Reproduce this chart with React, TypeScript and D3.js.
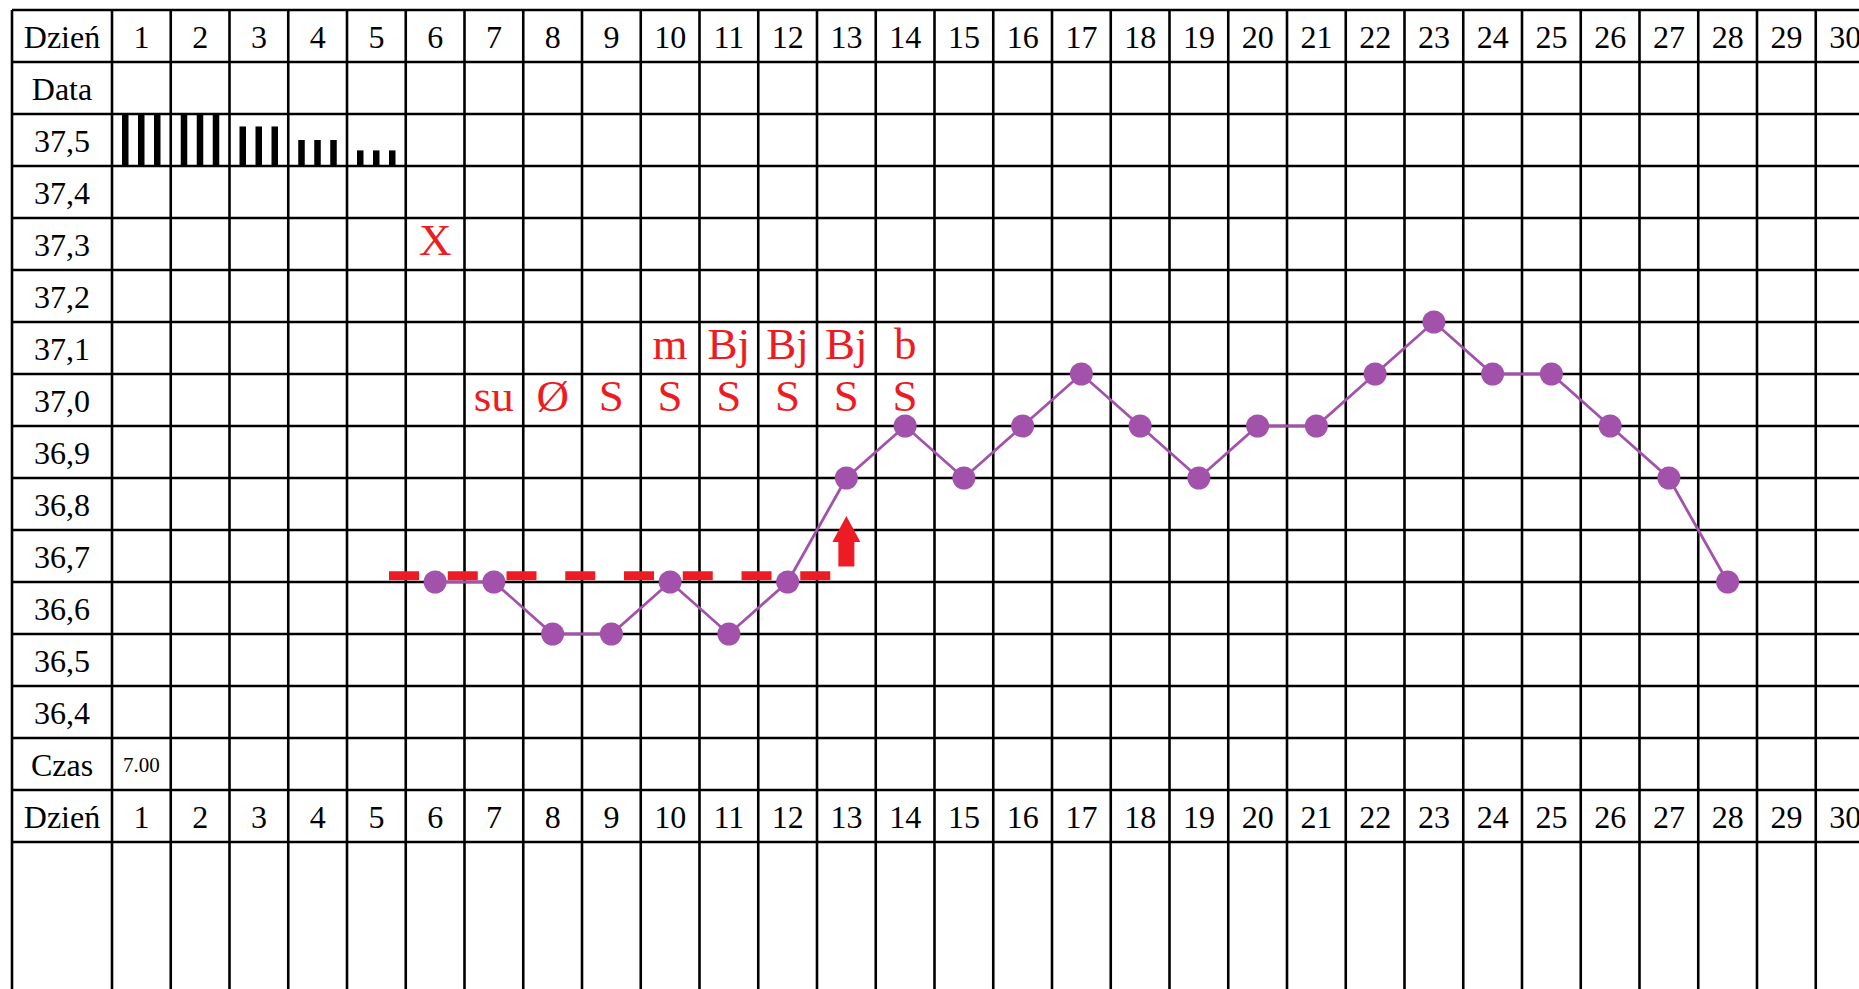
import * as d3 from 'd3';

// Chart dimensions (matches reference window)
const W = 1859;
const H = 989;

// Day numbers across the top and bottom rows
const DAYS = [1, 2, 3, 4, 5, 6, 7, 8, 9, 10, 11, 12, 13, 14, 15, 16, 17, 18, 19, 20, 21, 22, 23, 24, 25, 26, 27, 28, 29, 30];

// Row labels of the left column, top to bottom
const ROW_LABELS = ['Dzień', 'Data', '37,5', '37,4', '37,3', '37,2', '37,1', '37,0', '36,9', '36,8', '36,7', '36,6', '36,5', '36,4', 'Czas', 'Dzień'];

// Basal body temperature readings
const TEMP_DAYS = [6, 7, 8, 9, 10, 11, 12, 13, 14, 15, 16, 17, 18, 19, 20, 21, 22, 23, 24, 25, 26, 27, 28];
const TEMPS = [36.65, 36.65, 36.55, 36.55, 36.65, 36.55, 36.65, 36.85, 36.95, 36.85, 36.95, 37.05, 36.95, 36.85, 36.95, 36.95, 37.05, 37.15, 37.05, 37.05, 36.95, 36.85, 36.65];

// Bleeding intensity (fraction of the row height)
const BLEED_DAYS = [1, 2, 3, 4, 5];
const BLEED_LEVELS = [1, 1, 0.76, 0.5, 0.3];

// Red annotations
const NOTE_DAYS_UPPER = [10, 11, 12, 13, 14];
const NOTE_TEXT_UPPER = ['m', 'Bj', 'Bj', 'Bj', 'b'];
const NOTE_DAYS_LOWER = [7, 8, 9, 10, 11, 12, 13, 14];
const NOTE_TEXT_LOWER = ['su', 'Ø', 'S', 'S', 'S', 'S', 'S', 'S'];
const MARK_DAY = 6;
const MARK_TEXT = 'X';

// Cover line (in day units) and the rise arrow
const COVER_FROM = 5.215;
const COVER_TO = 12.755;
const COVER_TEMP = 36.662;
const ARROW_DAY = 13;
const ARROW_FROM = 36.68;
const ARROW_TO = 36.777;

const TIME_DAY = 1;
const TIME_TEXT = '7.00';

const RED = '#ed1c24';
const PURPLE = '#a352ab';
const FONT = '"Liberation Serif", "Times New Roman", serif';

export default function App() {
  const left = 12;
  const colStart = 112;
  const colW = 58.75;

  const x = d3.scaleBand<number>()
    .domain(DAYS)
    .range([colStart, colStart + DAYS.length * colW]);
  const bw = x.bandwidth();
  const cx = (d: number) => (x(d) as number) + bw / 2;
  // continuous day position (day centre = integer)
  const xDay = d3.scaleLinear().domain([1, 30]).range([cx(1), cx(30)]);

  const rowIdx = ROW_LABELS.map((_, i) => i);
  const row = d3.scaleBand<number>().domain(rowIdx).range([10, 842]);
  const rh = row.bandwidth();

  const yT = d3.scaleLinear()
    .domain([37.55, 36.35])
    .range([row(2) as number, row(14) as number]);

  const hLines = [...rowIdx.map(i => row(i) as number), 842];
  const vLines = [left, ...DAYS.map(d => x(d) as number), colStart + DAYS.length * colW];

  const pts = TEMP_DAYS.map((d, i) => [cx(d), yT(TEMPS[i])] as [number, number]);
  const line = d3.line();

  const ax = cx(ARROW_DAY);
  const aTip = yT(ARROW_TO);
  const aBot = yT(ARROW_FROM);
  const headH = 26;
  const arrowPath = `M${ax},${aTip} L${ax + 14},${aTip + headH} L${ax + 8},${aTip + headH} L${ax + 8},${aBot} L${ax - 8},${aBot} L${ax - 8},${aTip + headH} L${ax - 14},${aTip + headH} Z`;

  const bleedBottom = (row(2) as number) + rh;
  const blackDy = 12;
  const redDy = 10.5;

  return (
    <svg
      width={W}
      height={H}
      style={{ position: 'fixed', left: 0, top: 0, background: '#fff' }}
      fontFamily={FONT}
    >
      <rect x={0} y={0} width={W} height={H} fill="#fff" />

      {/* bleeding bars */}
      {BLEED_DAYS.map((d, i) =>
        [10, 26, 42].map(off => (
          <rect
            key={`b${d}-${off}`}
            x={(x(d) as number) + off}
            y={bleedBottom - BLEED_LEVELS[i] * rh}
            width={6.5}
            height={BLEED_LEVELS[i] * rh}
            fill="#000"
          />
        ))
      )}

      {/* grid */}
      {hLines.map((y, i) => (
        <line key={`h${i}`} x1={left} x2={W + 20} y1={y} y2={y} stroke="#000" strokeWidth={2.6} />
      ))}
      {vLines.map((vx, i) => (
        <line key={`v${i}`} x1={vx} x2={vx} y1={10} y2={H + 10} stroke="#000" strokeWidth={2.6} />
      ))}

      {/* left labels */}
      {ROW_LABELS.map((t, i) => (
        <text
          key={`l${i}`}
          x={(left + colStart) / 2}
          y={(row(i) as number) + rh / 2 + blackDy}
          fontSize={32}
          textAnchor="middle"
          fill="#000"
        >
          {t}
        </text>
      ))}

      {/* day numbers, top and bottom */}
      {[0, 15].map(r =>
        DAYS.map(d => (
          <text
            key={`d${r}-${d}`}
            x={cx(d)}
            y={(row(r) as number) + rh / 2 + blackDy}
            fontSize={32}
            textAnchor="middle"
            fill="#000"
          >
            {d}
          </text>
        ))
      )}

      <text x={cx(TIME_DAY)} y={(row(14) as number) + rh / 2 + 8} fontSize={21} textAnchor="middle" fill="#000">
        {TIME_TEXT}
      </text>

      {/* cover line */}
      <line
        x1={xDay(COVER_FROM)}
        x2={xDay(COVER_TO)}
        y1={yT(COVER_TEMP)}
        y2={yT(COVER_TEMP)}
        stroke={RED}
        strokeWidth={9}
        strokeDasharray={`30 ${colW - 30}`}
      />

      {/* temperature curve */}
      <path d={line(pts) as string} fill="none" stroke={PURPLE} strokeWidth={2.8} />
      {pts.map((p, i) => (
        <circle key={`p${i}`} cx={p[0]} cy={p[1]} r={11.5} fill={PURPLE} />
      ))}

      {/* rise arrow */}
      <path d={arrowPath} fill={RED} />

      {/* red annotations */}
      <text x={cx(MARK_DAY)} y={yT(37.3) + redDy} fontSize={45} textAnchor="middle" fill={RED}>
        {MARK_TEXT}
      </text>
      {NOTE_DAYS_UPPER.map((d, i) => (
        <text key={`nu${d}`} x={cx(d)} y={yT(37.1) + redDy} fontSize={45} textAnchor="middle" fill={RED}>
          {NOTE_TEXT_UPPER[i]}
        </text>
      ))}
      {NOTE_DAYS_LOWER.map((d, i) => (
        <text key={`nl${d}`} x={cx(d)} y={yT(37.0) + redDy} fontSize={45} textAnchor="middle" fill={RED}>
          {NOTE_TEXT_LOWER[i]}
        </text>
      ))}
    </svg>
  );
}
